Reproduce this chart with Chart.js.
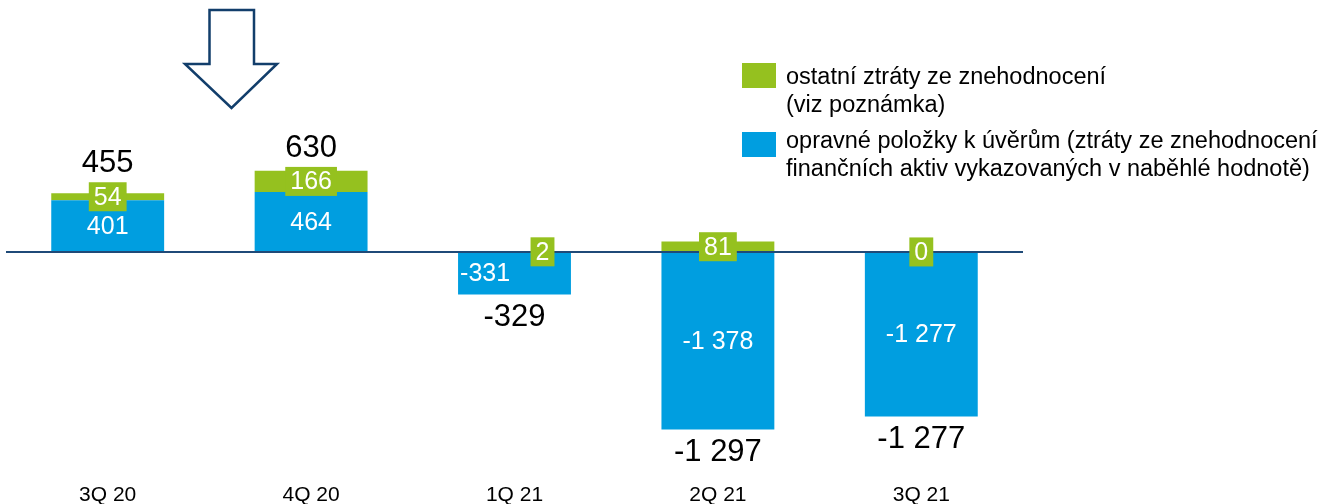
<!DOCTYPE html>
<html lang="cs">
<head>
<meta charset="utf-8">
<title>Ztráty ze znehodnocení</title>
<script src="https://cdn.jsdelivr.net/npm/chart.js@4/dist/chart.umd.min.js"></script>
<style>
    html, body { margin: 0; padding: 0; background: #fff; }
    #wrap { position: relative; width: 1332px; height: 504px; font-family: "Liberation Sans", Arial, sans-serif; }
    #chart { position: absolute; left: 0; top: 0; }
    #arrow { position: absolute; left: 0; top: 0; }
    .sw { position: absolute; left: 742px; width: 34px; height: 25px; }
    .tx { position: absolute; left: 786px; font-size: 23.5px; line-height: 28px; color: #000; white-space: nowrap; }
</style>
</head>
<body>
<div id="wrap">
    <canvas id="chart" width="1332" height="504"></canvas>
    <svg id="arrow" width="300" height="120">
        <polygon points="209.5,10 254,10 254,64 277,64 231.5,108 185,64 209.5,64"
                 fill="#fff" stroke="#123E6B" stroke-width="2.5" stroke-linejoin="miter"/>
    </svg>
    <div class="sw" style="top:63px; background:#95C11F"></div>
    <div class="tx" style="top:62px">ostatní ztráty ze znehodnocení<br>(viz poznámka)</div>
    <div class="sw" style="top:132px; background:#009EE0"></div>
    <div class="tx" style="top:126px">opravné položky k úvěrům (ztráty ze znehodnocení<br>finančních aktiv vykazovaných v naběhlé hodnotě)</div>
</div>
<script>
(function () {
    'use strict';

    // data
    var quarters = ['3Q 20', '4Q 20', '1Q 21', '2Q 21', '3Q 21'];
    var loanProvisions = [401, 464, -331, -1378, -1277];   // opravné položky k úvěrům
    var otherImpairment = [54, 166, 2, 81, 0];              // ostatní ztráty ze znehodnocení

    var BLUE = '#009EE0';
    var GREEN = '#95C11F';
    var LINE = '#1F4A78';
    var FONT = '"Liberation Sans", Arial, sans-serif';

    function fmt(v) {
        var s = Math.abs(v).toString().replace(/\B(?=(\d{3})+(?!\d))/g, ' ');
        return (v < 0 ? '-' : '') + s;
    }

    // zero line drawn over the bars, under the labels
    var zeroLine = {
        id: 'zeroLine',
        afterDatasetsDraw: function (chart) {
            var ctx = chart.ctx, a = chart.chartArea;
            var y = chart.scales.y.getPixelForValue(0);
            ctx.save();
            ctx.strokeStyle = LINE;
            ctx.lineWidth = 2;
            ctx.beginPath();
            ctx.moveTo(a.left, y);
            ctx.lineTo(a.right, y);
            ctx.stroke();
            ctx.restore();
        }
    };

    var barLabels = {
        id: 'barLabels',
        afterDraw: function (chart) {
            var ctx = chart.ctx;
            var ys = chart.scales.y;
            var blue = chart.getDatasetMeta(0).data;
            ctx.save();
            ctx.textBaseline = 'middle';
            for (var i = 0; i < quarters.length; i++) {
                var b = blue[i];
                var bTop = Math.min(b.y, b.base), bBot = Math.max(b.y, b.base);
                var bMid = (bTop + bBot) / 2;
                // green always sits on the positive side of the stack
                var gBase = Math.max(loanProvisions[i], 0);
                var gMid = ys.getPixelForValue(gBase + otherImpairment[i] / 2);

                // does the green tag collide with the blue value?
                var clash = Math.abs(bMid - gMid) < 12 + 14.5 + 2;

                // blue value
                ctx.font = '25px ' + FONT;
                ctx.fillStyle = '#fff';
                var bt = fmt(loanProvisions[i]);
                if (clash) {
                    ctx.textAlign = 'left';
                    ctx.fillText(bt, b.x - b.width / 2 + 2, bMid + 1);
                } else {
                    ctx.textAlign = 'center';
                    ctx.fillText(bt, b.x, bMid + 1);
                }

                // green tag
                var gt = fmt(otherImpairment[i]);
                var gx = clash ? b.x + 28 : b.x;
                var tw = ctx.measureText(gt).width;
                ctx.fillStyle = GREEN;
                ctx.fillRect(gx - tw / 2 - 5, gMid - 14.5, tw + 10, 29);
                ctx.fillStyle = '#fff';
                ctx.textAlign = 'center';
                ctx.fillText(gt, gx, gMid + 1);

                // total
                var total = loanProvisions[i] + otherImpairment[i];
                ctx.font = '31px ' + FONT;
                ctx.fillStyle = '#000';
                var ty = total >= 0 ? gMid - 33 : bBot + 23;
                ctx.fillText(fmt(total), b.x, ty);
            }
            ctx.restore();
        }
    };

    new Chart(document.getElementById('chart'), {
        type: 'bar',
        data: {
            labels: quarters,
            datasets: [
                { label: 'opravné položky k úvěrům', data: loanProvisions, backgroundColor: BLUE, stack: 's' },
                { label: 'ostatní ztráty ze znehodnocení', data: otherImpairment, backgroundColor: GREEN, stack: 's' }
            ]
        },
        options: {
            responsive: false,
            animation: false,
            layout: { padding: { left: 6, right: 309, top: 0, bottom: -6 } },
            datasets: { bar: { categoryPercentage: 1, barPercentage: 0.555 } },
            plugins: { legend: { display: false }, tooltip: { enabled: false } },
            scales: {
                x: {
                    stacked: true,
                    grid: { display: false, drawTicks: false },
                    border: { display: false },
                    ticks: { color: '#000', font: { family: FONT, size: 21 }, padding: 2 }
                },
                y: {
                    stacked: true,
                    display: false,
                    min: -1775,
                    max: 1954
                }
            }
        },
        plugins: [zeroLine, barLabels]
    });
})();
</script>
</body>
</html>
